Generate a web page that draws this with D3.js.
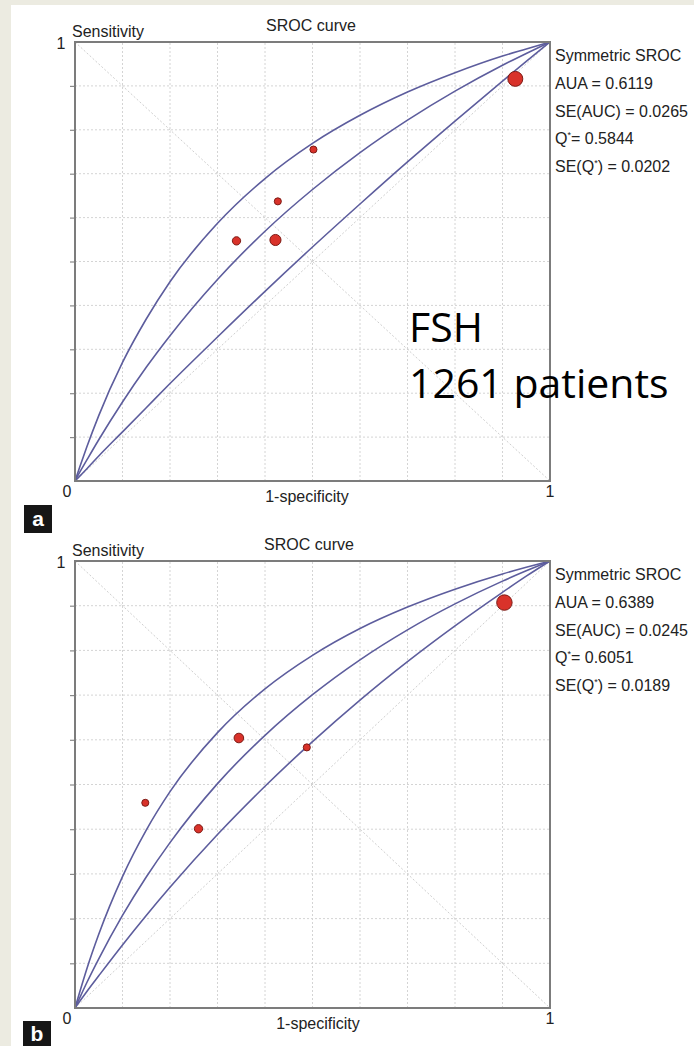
<!DOCTYPE html>
<html>
<head>
<meta charset="utf-8">
<script src="https://cdn.jsdelivr.net/npm/d3@7"></script>
<style>
  body { margin: 0; background: #ecebe1; }
  svg { display: block; }
</style>
</head>
<body>
<svg id="fig" width="694" height="1046"></svg>
<script>
// False-positive-rate grid on which the SROC curves are tabulated
const fprGrid = [0, 0.01, 0.025, 0.05, 0.1, 0.15, 0.2, 0.3, 0.4, 0.5, 0.6, 0.7, 0.8, 0.9, 0.95, 1];

// Panel a (FSH): curve and its two bounds
const aUpper  = [0, 0.032, 0.078, 0.149, 0.270, 0.369, 0.454, 0.587, 0.689, 0.769, 0.833, 0.886, 0.930, 0.968, 0.984, 1];
const aMiddle = [0, 0.020, 0.048, 0.094, 0.180, 0.259, 0.331, 0.459, 0.569, 0.664, 0.748, 0.822, 0.888, 0.947, 0.974, 1];
const aLower  = [0, 0.011, 0.028, 0.057, 0.112, 0.167, 0.222, 0.328, 0.432, 0.533, 0.631, 0.727, 0.820, 0.911, 0.956, 1];
const aStudyFpr    = [0.340, 0.422, 0.427, 0.502, 0.927];
const aStudySens   = [0.547, 0.549, 0.637, 0.755, 0.916];
const aStudyWeight = [18, 32, 13, 13, 58];
const aStats = ["Symmetric SROC", "AUA = 0.6119", "SE(AUC) = 0.0265", "Q*= 0.5844", "SE(Q*) = 0.0202"];
const aNote  = ["FSH", "1261 patients"];

// Panel b
const bUpper  = [0, 0.036, 0.088, 0.165, 0.294, 0.398, 0.484, 0.616, 0.714, 0.789, 0.849, 0.897, 0.937, 0.971, 0.986, 1];
const bMiddle = [0, 0.023, 0.057, 0.110, 0.207, 0.293, 0.370, 0.502, 0.610, 0.701, 0.779, 0.846, 0.904, 0.955, 0.978, 1];
const bLower  = [0, 0.015, 0.037, 0.072, 0.141, 0.207, 0.270, 0.388, 0.496, 0.596, 0.689, 0.775, 0.855, 0.930, 0.966, 1];
const bStudyFpr    = [0.148, 0.260, 0.345, 0.488, 0.904];
const bStudySens   = [0.459, 0.401, 0.604, 0.583, 0.907];
const bStudyWeight = [13, 18, 24, 13, 62];
const bStats = ["Symmetric SROC", "AUA = 0.6389", "SE(AUC) = 0.0245", "Q*= 0.6051", "SE(Q*) = 0.0189"];

// Axis annotation
const gridTicks = [0.1, 0.2, 0.3, 0.4, 0.5, 0.6, 0.7, 0.8, 0.9];
const axisEnds = ["0", "1"];
const titleText = "SROC curve";
const yLabel = "Sensitivity";
const xLabel = "1-specificity";

const FONT = "'Liberation Sans', Arial, Helvetica, sans-serif";
const svg = d3.select("#fig");

// page background: beige margin with a white sheet
svg.append("rect").attr("width", 694).attr("height", 1046).attr("fill", "#ecebe1");
svg.append("rect").attr("x", 11).attr("y", 5).attr("width", 683).attr("height", 1041).attr("fill", "#ffffff");

const panels = [
  { tag: "a", top: 42, bottom: 481, titleX: 311, xLabelX: 307,
    upper: aUpper, middle: aMiddle, lower: aLower,
    fpr: aStudyFpr, sens: aStudySens, weight: aStudyWeight, stats: aStats,
    tagBox: { x: 24, y: 505, h: 28, base: 21 } },
  { tag: "b", top: 561, bottom: 1008, titleX: 309, xLabelX: 318,
    upper: bUpper, middle: bMiddle, lower: bLower,
    fpr: bStudyFpr, sens: bStudySens, weight: bStudyWeight, stats: bStats,
    tagBox: { x: 23, y: 1021, h: 25, base: 20 } }
];

const rScale = d3.scaleSqrt().domain([0, 60]).range([0, 7.6]);

function writeStat(sel, str) {
  // a "*" is drawn as a small raised mark after Q
  const parts = str.split("*");
  parts.forEach((p, i) => {
    if (i > 0) {
      sel.append("tspan").attr("font-size", 9).attr("dy", -6).text("*");
      sel.append("tspan").attr("dy", 6).text(p);
    } else {
      sel.append("tspan").text(p);
    }
  });
}

panels.forEach(p => {
  const g = svg.append("g");
  const x = d3.scaleLinear().domain([0, 1]).range([75, 550]);
  const y = d3.scaleLinear().domain([0, 1]).range([p.bottom, p.top]);

  // dotted grid
  g.append("g").selectAll("line.v").data(gridTicks).join("line")
    .attr("x1", d => x(d)).attr("x2", d => x(d))
    .attr("y1", y(0)).attr("y2", y(1))
    .attr("stroke", "#d4d4d4").attr("stroke-width", 1).attr("stroke-dasharray", "2,2");
  g.append("g").selectAll("line.h").data(gridTicks).join("line")
    .attr("x1", x(0)).attr("x2", x(1))
    .attr("y1", d => y(d)).attr("y2", d => y(d))
    .attr("stroke", "#d4d4d4").attr("stroke-width", 1).attr("stroke-dasharray", "2,2");

  // chance line and its mirror
  g.append("line").attr("x1", x(0)).attr("y1", y(0)).attr("x2", x(1)).attr("y2", y(1))
    .attr("stroke", "#cfcfcf").attr("stroke-width", 1).attr("stroke-dasharray", "2,2");
  g.append("line").attr("x1", x(0)).attr("y1", y(1)).attr("x2", x(1)).attr("y2", y(0))
    .attr("stroke", "#cfcfcf").attr("stroke-width", 1).attr("stroke-dasharray", "2,2");

  // y-axis ticks
  g.append("g").attr("transform", `translate(${x(0)},0)`)
    .call(d3.axisLeft(y).tickValues(gridTicks).tickSize(5).tickFormat(""))
    .call(a => a.select(".domain").remove())
    .call(a => a.selectAll("line").attr("stroke", "#8a8a8a").attr("stroke-width", 1.2));

  // SROC curves
  const line = d3.line().x(d => x(d[0])).y(d => y(d[1])).curve(d3.curveMonotoneX);
  [p.upper, p.middle, p.lower].forEach(arr => {
    g.append("path")
      .datum(fprGrid.map((f, i) => [f, arr[i]]))
      .attr("d", line)
      .attr("fill", "none")
      .attr("stroke", "#5d5d9d")
      .attr("stroke-width", 1.6);
  });

  // frame
  g.append("rect").attr("x", x(0)).attr("y", y(1))
    .attr("width", x(1) - x(0)).attr("height", y(0) - y(1))
    .attr("fill", "none").attr("stroke", "#7c7c7c").attr("stroke-width", 2);

  // studies
  g.append("g").selectAll("circle").data(p.fpr.map((f, i) => ({ f, s: p.sens[i], w: p.weight[i] })))
    .join("circle")
    .attr("cx", d => x(d.f)).attr("cy", d => y(d.s)).attr("r", d => rScale(d.w))
    .attr("fill", "#d9322a").attr("stroke", "#7d1b15").attr("stroke-width", 1);

  // texts
  const t = g.append("g").attr("font-family", FONT).attr("font-size", 16).attr("fill", "#222");
  t.append("text").attr("x", p.titleX).attr("y", p.top - 11).attr("text-anchor", "middle").text(titleText);
  t.append("text").attr("x", 72).attr("y", p.top - 5).text(yLabel);
  t.append("text").attr("x", 61).attr("y", p.top + 7).attr("text-anchor", "middle").text(axisEnds[1]);
  t.append("text").attr("x", 67).attr("y", p.bottom + 16).attr("text-anchor", "middle").text(axisEnds[0]);
  t.append("text").attr("x", 550).attr("y", p.bottom + 16).attr("text-anchor", "middle").text(axisEnds[1]);
  t.append("text").attr("x", p.xLabelX).attr("y", p.bottom + 21).attr("text-anchor", "middle").text(xLabel);

  p.stats.forEach((s, i) => {
    writeStat(t.append("text").attr("x", 555).attr("y", p.top + 19 + i * 27.8), s);
  });

  // panel tag
  g.append("rect").attr("x", p.tagBox.x).attr("y", p.tagBox.y).attr("width", 28).attr("height", p.tagBox.h).attr("fill", "#161616");
  g.append("text").attr("x", p.tagBox.x + 14).attr("y", p.tagBox.y + p.tagBox.base)
    .attr("text-anchor", "middle").attr("font-family", FONT).attr("font-weight", "bold")
    .attr("font-size", 21).attr("fill", "#ffffff").text(p.tag);
});

// note inside panel a
const note = svg.append("text").attr("font-family", "'Open Sans', 'Noto Sans', sans-serif")
  .attr("font-size", 41).attr("fill", "#000");
aNote.forEach((s, i) => {
  note.append("tspan").attr("x", 409).attr("y", 342 + i * 56).text(s);
});
</script>
</body>
</html>
